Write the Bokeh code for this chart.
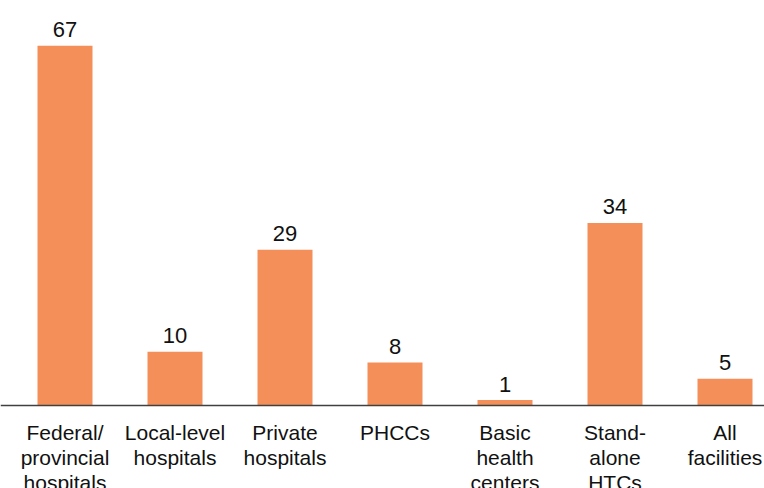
from bokeh.plotting import figure
from bokeh.models import ColumnDataSource, Span, Range1d
from bokeh.core.properties import value
from bokeh.embed import file_html
from bokeh.resources import INLINE

categories = [
    "Federal/\nprovincial\nhospitals",
    "Local-level\nhospitals",
    "Private\nhospitals",
    "PHCCs",
    "Basic\nhealth\ncenters",
    "Stand-\nalone\nHTCs",
    "All\nfacilities",
]
values = [67, 10, 29, 8, 1, 34, 5]

BAR_COLOR = "#F58F5A"
FONT = "Liberation Sans"

xs = list(range(len(categories)))

p = figure(
    width=764, height=488,
    output_backend="svg", toolbar_location=None,
    x_range=Range1d(-0.5864, 6.3591),
    y_range=Range1d(-15.46, 75.42),
    min_border_left=0, min_border_right=0, min_border_top=0, min_border_bottom=0,
)
p.xaxis.visible = False
p.yaxis.visible = False
p.xgrid.visible = False
p.ygrid.visible = False
p.outline_line_color = None
p.background_fill_color = "white"
p.border_fill_color = "white"

src = ColumnDataSource(dict(x=xs, top=values, label=[str(v) for v in values]))
p.vbar(x="x", top="top", bottom=0, width=0.5, source=src,
       fill_color=BAR_COLOR, line_color=None)

# baseline
p.add_layout(Span(location=0, dimension="width", line_color="#404040", line_width=1.3))

# value labels
p.text(x="x", y="top", text="label", source=src, text_align="center",
       text_baseline="alphabetic", y_offset=-16,
       text_font=value(FONT), text_font_size="22px", text_color="#111111")

# category labels (multi-line, drawn below the baseline)
split = [c.split("\n") for c in categories]
max_lines = max(len(s) for s in split)
for k in range(max_lines):
    lx = [i for i, s in enumerate(split) if len(s) > k]
    lt = [s[k] for s in split if len(s) > k]
    ly = [0] * len(lx)
    p.text(x=lx, y=ly, text=lt, text_align="center", text_baseline="alphabetic",
           y_offset=27 + 25 * k,
           text_font=value(FONT), text_font_size="21px", text_color="#111111")

open("out.html", "w").write(file_html(p, INLINE))
